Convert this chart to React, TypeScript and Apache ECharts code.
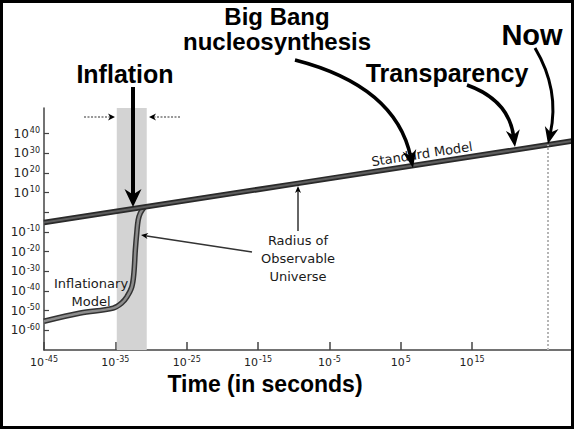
import React, { useEffect, useRef } from 'react';
import * as echarts from 'echarts';

// x: log10(time in seconds), y: log10(radius of observable universe)
const xTickValues = [-45, -35, -25, -15, -5, 5, 15];
const yTickValues = [-60, -50, -40, -30, -20, -10, 0, 10, 20, 30, 40];
const yLabelValues = [-60, -50, -40, -30, -20, -10, 10, 20, 30, 40];

const standardModel: [number, number][] = [
  [-45, -5.2],
  [-9.4, 14.7],
  [29, 36.2],
];

const inflationaryModel: [number, number][] = [
  [-45, -55.4],
  [-39.9, -51.2],
  [-35.3, -48.7],
  [-34.1, -46.1],
  [-33.4, -43.1],
  [-32.7, -38.0],
  [-32.4, -30.9],
  [-32.2, -19.2],
  [-32.0, -10.5],
  [-31.8, -3.9],
  [-31.5, -0.4],
  [-31.0, 2.4],
];

const inflationPeriod = [-34.8, -30.6];
const nowTime = 25.65;
const nowRadius = 34.3;

type P = [number, number];

function arrow(from: P, ctrl: P | null, tip: P, len: number, halfW: number, lineW: number, color: string, dash?: number[]) {
  const ref = ctrl ?? from;
  const dx = tip[0] - ref[0];
  const dy = tip[1] - ref[1];
  const L = Math.hypot(dx, dy);
  const ux = dx / L;
  const uy = dy / L;
  const nx = -uy;
  const ny = ux;
  const bx = tip[0] - len * ux;
  const by = tip[1] - len * uy;
  const head = {
    type: 'polygon',
    z: 30,
    shape: {
      points: [
        tip,
        [bx + halfW * nx, by + halfW * ny],
        [tip[0] - 0.7 * len * ux, tip[1] - 0.7 * len * uy],
        [bx - halfW * nx, by - halfW * ny],
      ],
    },
    style: { fill: '#000' },
  };
  const end: P = [tip[0] - 0.6 * len * ux, tip[1] - 0.6 * len * uy];
  const body = ctrl
    ? {
        type: 'bezierCurve',
        z: 30,
        shape: { x1: from[0], y1: from[1], x2: end[0], y2: end[1], cpx1: ctrl[0], cpy1: ctrl[1] },
        style: { stroke: color, lineWidth: lineW, fill: 'none' },
      }
    : {
        type: 'line',
        z: 30,
        shape: { x1: from[0], y1: from[1], x2: end[0], y2: end[1] },
        style: { stroke: color, lineWidth: lineW, lineDash: dash },
      };
  return [body, head];
}

const bold = 'Liberation Sans, Arial, sans-serif';
const plain = 'DejaVu Sans, sans-serif';

function bigText(text: string, x: number, y: number, size: number, lineHeight?: number) {
  return {
    type: 'text',
    z: 40,
    x,
    y,
    style: {
      text,
      fontFamily: bold,
      fontWeight: 'bold',
      fontSize: size,
      lineHeight: lineHeight ?? size,
      fill: '#000',
      textAlign: 'center',
      textVerticalAlign: 'middle',
    },
  };
}

function smallText(text: string, x: number, y: number, rotation = 0) {
  return {
    type: 'text',
    z: 25,
    x,
    y,
    rotation,
    style: {
      text,
      fontFamily: plain,
      fontSize: 13,
      lineHeight: 18,
      fill: '#1a1a1a',
      textAlign: 'center',
      textVerticalAlign: 'middle',
    },
  };
}

const supFormatter = (v: number) => `{b|10}{s|${v}}`;

export default function App() {
  const ref = useRef<HTMLDivElement>(null);
  useEffect(() => {
    if (!ref.current) return;
    const chart = echarts.init(ref.current, undefined, { renderer: 'svg' });
    const graphic: any[] = [
      { type: 'rect', z: 50, shape: { x: 1.5, y: 1.5, width: 571, height: 426 }, style: { fill: 'none', stroke: '#000', lineWidth: 3 } },
      bigText('Big Bang', 277, 16.5, 24),
      bigText('nucleosynthesis', 277, 41.5, 24),
      bigText('Now', 532, 35, 29),
      bigText('Transparency', 447, 73, 25),
      bigText('Inflation', 125, 74, 25),
      bigText('Time (in seconds)', 265, 384, 23),
      smallText('Standard Model', 422, 154, 0.153),
      smallText('Radius of\nObservable\nUniverse', 298, 258),
      smallText('Inflationary\nModel', 91, 292),
      ...arrow([295, 60], [396, 86], [413, 168], 18, 7, 3.5, '#000'),
      ...arrow([467, 85], [509, 100], [515, 147], 17, 7, 3.5, '#000'),
      ...arrow([535, 48], [560, 90], [548, 144], 17, 7, 3, '#000'),
      ...arrow([133, 87], null, [133, 207], 18, 8.5, 4, '#000'),
      ...arrow([84, 117], null, [115, 117], 7, 3.5, 1.5, '#777', [2, 1.5]),
      ...arrow([180, 117], null, [149, 117], 7, 3.5, 1.5, '#777', [2, 1.5]),
      ...arrow([298, 231], null, [298, 186], 7, 3, 1.5, '#333'),
      ...arrow([252, 252], null, [141, 235], 7, 3, 1.5, '#333'),
    ];
    const labelRich = {
      b: { fontFamily: plain, fontSize: 11, color: '#222' },
      s: { fontFamily: plain, fontSize: 8, color: '#222', verticalAlign: 'top', padding: [0, 0, 6, 1] },
    };
    chart.setOption({
      animation: false,
      backgroundColor: '#fff',
      grid: { left: 44, top: 108, width: 528, height: 242 },
      xAxis: {
        type: 'value',
        min: -45,
        max: 29,
        axisLine: { show: true, onZero: false, lineStyle: { color: '#444', width: 1.5 } },
        axisTick: { show: true, inside: true, length: 8, customValues: xTickValues, lineStyle: { color: '#444', width: 1.5 } },
        axisLabel: { customValues: xTickValues, margin: 5, formatter: supFormatter, rich: labelRich },
        splitLine: { show: false },
      },
      yAxis: {
        type: 'value',
        min: -70,
        max: 53,
        axisLine: { show: true, onZero: false, lineStyle: { color: '#444', width: 1.5 } },
        axisTick: { show: true, inside: true, length: 5, customValues: yTickValues, lineStyle: { color: '#444', width: 1.2 } },
        axisLabel: {
          customValues: yLabelValues,
          margin: 4,
          formatter: supFormatter,
          rich: {
            b: { fontFamily: plain, fontSize: 12, color: '#222' },
            s: { fontFamily: plain, fontSize: 8, color: '#222', verticalAlign: 'top', padding: [0, 0, 6, 1] },
          },
        },
        splitLine: { show: false },
      },
      series: [
        {
          type: 'line',
          data: inflationaryModel,
          showSymbol: false,
          smooth: 0.35,
          lineStyle: { color: '#333', width: 5.5 },
          markArea: {
            silent: true,
            itemStyle: { color: '#d3d3d3' },
            data: [[{ xAxis: inflationPeriod[0] }, { xAxis: inflationPeriod[1] }]],
          },
          markLine: {
            silent: true,
            symbol: 'none',
            label: { show: false },
            lineStyle: { color: '#b5b5b5', type: 'dotted', width: 2 },
            data: [[{ coord: [nowTime, -70] }, { coord: [nowTime, nowRadius] }]],
          },
        },
        {
          type: 'line',
          data: inflationaryModel,
          showSymbol: false,
          smooth: 0.35,
          lineStyle: { color: '#8c8c8c', width: 2.5 },
        },
        {
          type: 'line',
          data: standardModel,
          showSymbol: false,
          lineStyle: { color: '#2a2a2a', width: 5.5 },
        },
        {
          type: 'line',
          data: standardModel,
          showSymbol: false,
          lineStyle: { color: '#5e5e5e', width: 2 },
        },
      ],
      graphic,
    });
    return () => chart.dispose();
  }, []);
  return <div ref={ref} style={{ position: 'fixed', left: 0, top: 0, width: 574, height: 430, background: '#fff' }} />;
}
